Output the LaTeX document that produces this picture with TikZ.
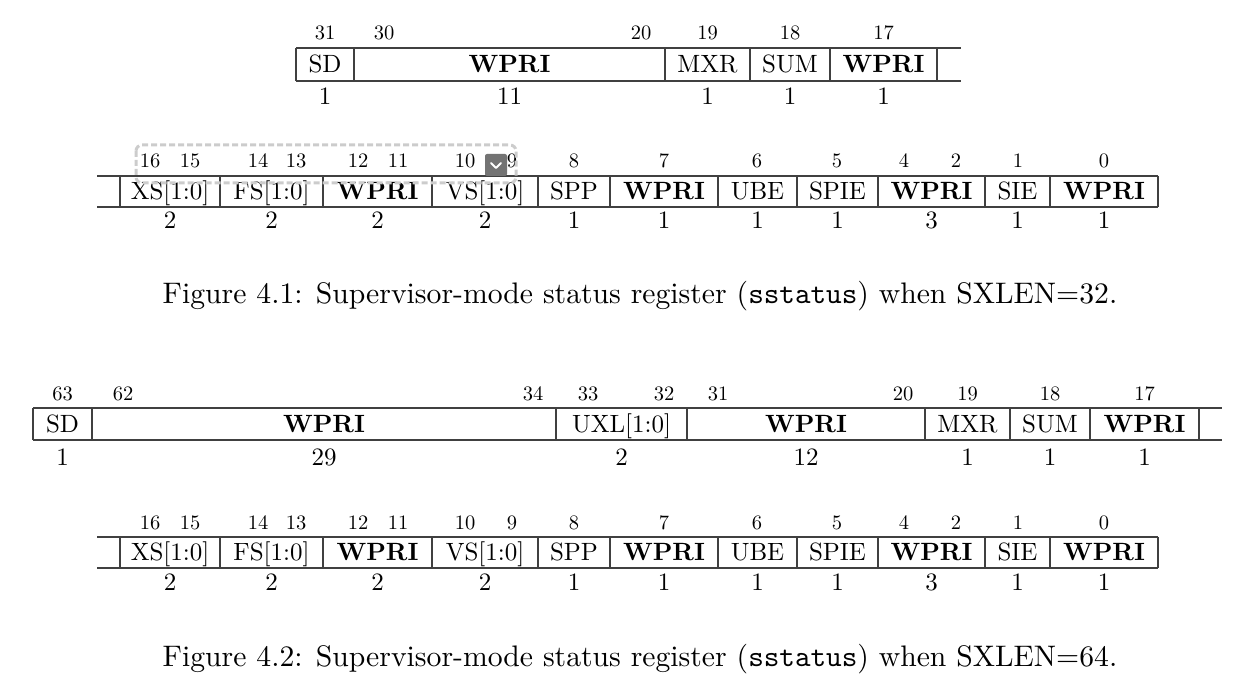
\documentclass[tikz,border=0pt]{standalone}
\usepackage{fontspec}
\setmainfont{lmroman10-regular.otf}[BoldFont=lmroman10-bold.otf]
\setmonofont{lmmono10-regular.otf}
\usetikzlibrary{positioning}

\newcommand\fieldfont{\fontsize{25}{30}\selectfont}
\newcommand\bitfont{\fontsize{20.5}{24}\selectfont}
\newcommand\capfont{\fontsize{29.7}{35}\selectfont}

\begin{document}
\begin{tikzpicture}[x=1pt,y=-1pt,
  reg/.style={draw=black!75,line width=1.2pt},
  lab/.style={font=\fieldfont,inner sep=0pt,anchor=base},
  bit/.style={font=\bitfont,inner sep=0pt,anchor=base},
  captext/.style={font=\capfont,inner sep=0pt,anchor=base}]
\useasboundingbox (0,0) rectangle (1256,676);

% Figure 4.1, bits 31..17
\draw[reg] (296,48) -- (961,48) (296,81) -- (961,81);
\foreach \l/\r/\txt/\w [count=\i] in {296/354/SD/1, 354/665/\textbf{WPRI}/11,
    665/750/MXR/1, 750/830/SUM/1, 830/937/\textbf{WPRI}/1} {
  \draw[reg] (\l,48) -- (\l,81) (\r,48) -- (\r,81);
  \node[lab] (fa\i) at ({(\l+\r)/2},72.5) {\txt};
  \node[lab] (wa\i) at ({(\l+\r)/2},105) {\w};
}
\foreach \x/\n in {325/31, 384/30, 641/20, 707.5/19, 790/18, 883.5/17}
  \node[bit] (ba\n) at (\x,40) {\n};

% Figure 4.2, bits 63..17
\draw[reg] (33,408) -- (1222,408) (33,440) -- (1222,440);
\foreach \l/\r/\txt/\w [count=\i] in {33/92/SD/1, 92/556/\textbf{WPRI}/29,
    556/687/UXL[1:0]/2, 687/925/\textbf{WPRI}/12, 925/1010/MXR/1,
    1010/1090/SUM/1, 1090/1199/\textbf{WPRI}/1} {
  \draw[reg] (\l,408) -- (\l,440) (\r,408) -- (\r,440);
  \node[lab] (fc\i) at ({(\l+\r)/2},432.5) {\txt};
  \node[lab] (wc\i) at ({(\l+\r)/2},465) {\w};
}
\foreach \x/\n in {62.5/63, 123/62, 533/34, 588/33, 664/32, 718/31, 903/20,
    967.5/19, 1050/18, 1144.5/17}
  \node[bit] (bc\n) at (\x,400) {\n};

% bits 16..0, same in both figures
\foreach \fig/\t in {b/176, d/537} {
  \draw[reg] (97,\t) -- (1158,\t) (97,\t+31) -- (1158,\t+31);
  \foreach \l/\r/\txt/\w [count=\i] in {120/220/XS[1:0]/2, 220/323/FS[1:0]/2,
      323/432/\textbf{WPRI}/2, 432/538/VS[1:0]/2, 538/610/SPP/1,
      610/718/\textbf{WPRI}/1, 718/797/UBE/1, 797/878/SPIE/1,
      878/985/\textbf{WPRI}/3, 985/1050/SIE/1, 1050/1158/\textbf{WPRI}/1} {
    \draw[reg] (\l,\t) -- (\l,\t+31) (\r,\t) -- (\r,\t+31);
    \node[lab] (f\fig\i) at ({(\l+\r)/2},\t+23.5) {\txt};
    \node[lab] (w\fig\i) at ({(\l+\r)/2},\t+53) {\w};
  }
  \foreach \x/\n in {150/16, 190/15, 258/14, 296/13, 358/12, 398/11, 465/10,
      512/9, 574/8, 664/7, 757/6, 837/5, 904/4, 956/2, 1018/1, 1104/0}
    \node[bit] (b\fig\n) at (\x,\t-8) {\n};
}

% captions
\node[captext] (cap1) at (640,304) {Figure 4.1: Supervisor-mode status register (\texttt{sstatus}) when SXLEN=32.};
\node[captext] (cap2) at (640,666) {Figure 4.2: Supervisor-mode status register (\texttt{sstatus}) when SXLEN=64.};

% selection frame over the first figure
\draw[gray!40,line width=3pt,dash pattern=on 6pt off 3pt,rounded corners=6pt]
  (136,145) rectangle (516,183);
\node[fill=black!55,rounded corners=2pt,minimum size=22pt,inner sep=0pt] (menu) at (496,165) {};
\draw[white,line width=2pt,line cap=round,line join=round]
  ([shift={(-5,-2)}]menu.center) -- ([shift={(0,3)}]menu.center) -- ([shift={(5,-2)}]menu.center);
\end{tikzpicture}
\end{document}
